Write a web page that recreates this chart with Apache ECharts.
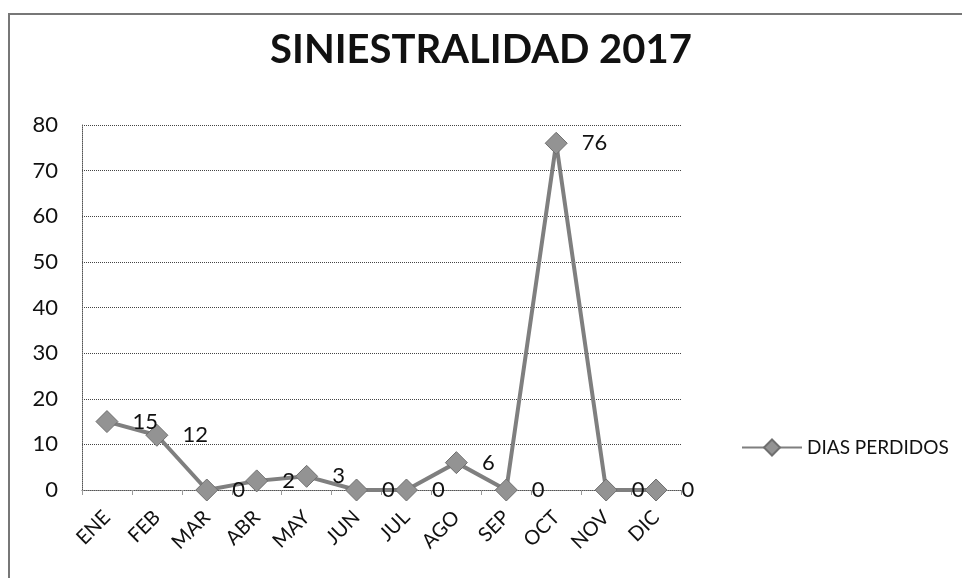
<!DOCTYPE html>
<html>
<head>
<meta charset="utf-8">
<script src="https://cdn.jsdelivr.net/npm/echarts@6/dist/echarts.min.js"></script>
<style>html,body{margin:0;padding:0;background:#fff;}#c{width:962px;height:578px;}</style>
</head>
<body>
<div id="c"></div>
<script>
var titleText = 'SINIESTRALIDAD 2017';
var seriesName = 'DIAS PERDIDOS';
var months = ['ENE','FEB','MAR','ABR','MAY','JUN','JUL','AGO','SEP','OCT','NOV','DIC'];
var diasPerdidos = [15, 12, 0, 2, 3, 0, 0, 6, 0, 76, 0, 0];
var yTicks = {min: 0, max: 80, interval: 10};

var chart = echarts.init(document.getElementById('c'));
chart.setOption({
  backgroundColor: '#fff',
  animation: false,
  graphic: [{
    type: 'rect',
    shape: {x: 9, y: 14, width: 1000, height: 1000},
    style: {fill: 'none', stroke: '#777', lineWidth: 2},
    silent: true
  }],
  title: {
    text: titleText,
    left: 'center',
    top: 25,
    textStyle: {fontFamily: 'Lato', fontWeight: 'bold', fontSize: 40, color: '#111'}
  },
  grid: {left: 82, right: 281, top: 125, bottom: 88, containLabel: false},
  legend: {
    data: [seriesName],
    orient: 'vertical',
    left: 736,
    top: 433,
    itemWidth: 60,
    itemHeight: 20,
    itemGap: 5,
    textStyle: {fontFamily: 'Lato', fontSize: 19, color: '#111'}
  },
  xAxis: {
    type: 'category',
    data: months,
    boundaryGap: true,
    axisLine: {lineStyle: {color: '#555', type: 'dotted', width: 1}},
    axisTick: {show: true, alignWithLabel: false, length: 5, lineStyle: {color: '#999'}},
    axisLabel: {rotate: 45, fontFamily: 'Lato', fontSize: 20, color: '#111', margin: 24}
  },
  yAxis: {
    type: 'value',
    min: yTicks.min, max: yTicks.max, interval: yTicks.interval,
    axisLine: {show: true, lineStyle: {color: '#555', type: 'dotted', width: 1}},
    axisTick: {show: false},
    splitLine: {lineStyle: {color: '#444', type: 'dotted', width: 1}},
    axisLabel: {fontFamily: 'Lato', fontSize: 22, color: '#111', margin: 24}
  },
  series: [{
    name: seriesName,
    type: 'line',
    data: diasPerdidos,
    symbol: 'diamond',
    symbolSize: 22,
    lineStyle: {color: '#7f7f7f', width: 4},
    itemStyle: {color: '#939393', borderColor: '#6f6f6f', borderWidth: 1},
    label: {show: true, position: 'right', distance: 14, fontFamily: 'Lato', fontSize: 22, color: '#111'}
  }]
});
</script>
</body>
</html>
